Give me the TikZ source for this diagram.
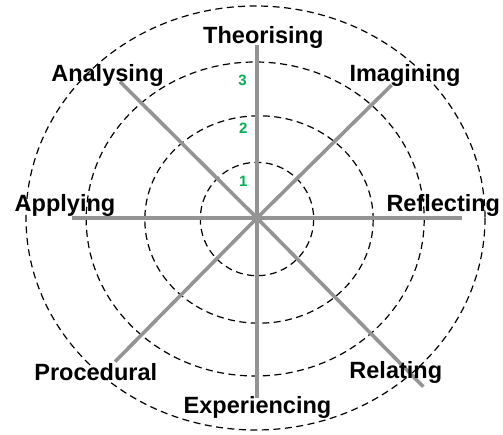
\documentclass[tikz,border=0pt]{standalone}
\usepackage{fontspec}
\setmainfont{Liberation Sans}
\begin{document}
\begin{tikzpicture}[x=1pt,y=-1pt,
  ring/.style={draw=black,line width=1.2pt,dash pattern=on 7pt off 4.5pt},
  spoke/.style={draw=black!42,line width=3.6pt},
  axlabel/.style={font=\bfseries\fontsize{23.5}{25}\selectfont,text=black,inner sep=0pt},
  level/.style={font=\bfseries\fontsize{15}{16}\selectfont,text=numgreen,inner sep=0pt}]
\definecolor{numgreen}{RGB}{0,176,80}
\useasboundingbox (0,0) rectangle (503,435);
\fill[white] (0,0) rectangle (503,435);
\coordinate (c) at (257,218);
% rings
\draw[ring] (257,219) ellipse [x radius=56.7, y radius=56.7];
\draw[ring] (259,219.5) ellipse [x radius=114.2, y radius=103.7];
\draw[ring] (255.2,219) ellipse [x radius=169, y radius=157];
\draw[ring] (255.5,218) ellipse [x radius=229.5, y radius=212];
% spoke ends
\coordinate (eN) at (257,45);
\coordinate (eS) at (257,398);
\coordinate (eW) at (71.7,218);
\coordinate (eE) at (461.7,218);
\coordinate (eNE) at (391.7,85);
\coordinate (eNW) at (120,81.7);
\coordinate (eSW) at (115,361.7);
\coordinate (eSE) at (423.3,386.7);
\foreach \e in {eN,eS,eW,eE,eNE,eNW,eSW,eSE} \draw[spoke] (c) -- (\e);
% labels
\node[axlabel] (theo) at (263.3,37.5) {Theorising};
\node[axlabel] (anal) at (107.5,75) {Analysing};
\node[axlabel] (imag) at (405,75) {Imagining};
\node[axlabel] (appl) at (65,205) {Applying};
\node[axlabel] (refl) at (443.3,205) {Reflecting};
\node[axlabel] (proc) at (95.8,372) {Procedural};
\node[axlabel] (rela) at (395.8,372) {Relating};
\node[axlabel] (expe) at (257.5,407) {Experiencing};
% levels
\node[level] (l1) at (243.3,181.7) {1};
\node[level] (l2) at (243.3,128.3) {2};
\node[level] (l3) at (242.5,80) {3};
\end{tikzpicture}
\end{document}
